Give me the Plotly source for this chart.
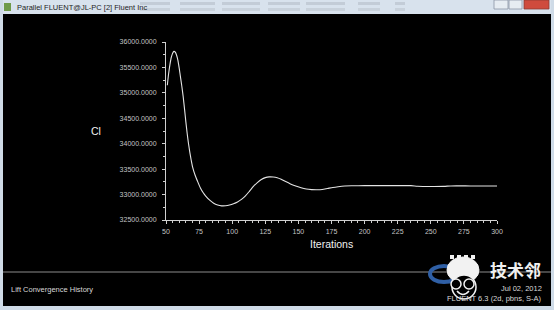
import plotly.graph_objects as go

# ---- data ----
iterations = [51, 52, 53, 54, 55, 56, 57, 58, 59, 60, 61, 62, 63, 64, 65, 66, 67, 68, 69, 70,
              72, 74, 76, 78, 80, 83, 86, 89, 92, 95, 98, 101, 104, 107, 110, 113, 116, 119, 122,
              125, 128, 131, 134, 137, 140, 144, 148, 152, 156, 160, 164, 168, 172, 176, 180, 185,
              190, 200, 215, 235, 240, 250, 260, 265, 280, 300]
lift_cl = [35150, 35380, 35560, 35700, 35780, 35815, 35800, 35740, 35640, 35480, 35300, 35120,
           34920, 34680, 34430, 34200, 34000, 33830, 33680, 33550, 33380, 33250, 33130, 33040,
           32970, 32890, 32830, 32795, 32778, 32780, 32795, 32820, 32855, 32905, 32975, 33065,
           33160, 33235, 33295, 33333, 33348, 33345, 33330, 33300, 33260, 33210, 33170, 33135,
           33110, 33098, 33095, 33100, 33120, 33140, 33155, 33168, 33172, 33175, 33175, 33175,
           33165, 33160, 33162, 33170, 33170, 33170]
x_ticks = [50, 75, 100, 125, 150, 175, 200, 225, 250, 275, 300]
y_ticks = [32500, 33000, 33500, 34000, 34500, 35000, 35500, 36000]

W, H = 554, 310
L, R, T, B = 166, 497, 42, 220


def px(x):
    return (x - L) / (R - L)


def py(y):
    return (B - y) / (B - T)


FONT = "Liberation Sans"

fig = go.Figure()
fig.add_trace(go.Scatter(
    x=iterations, y=lift_cl, mode="lines",
    line=dict(color="#e4e4e4", width=1.1, shape="spline", smoothing=0.6),
    hoverinfo="skip", showlegend=False,
))

shapes = []


def rect(x0, y0, x1, y1, fill, line=None, lw=0, layer="above"):
    shapes.append(dict(type="rect", xref="paper", yref="paper",
                       x0=px(x0), x1=px(x1), y0=py(y1), y1=py(y0),
                       fillcolor=fill, line=dict(color=line or fill, width=lw), layer=layer))


def circ(x0, y0, x1, y1, fill, line, lw):
    shapes.append(dict(type="circle", xref="paper", yref="paper", x0=px(x0), x1=px(x1),
                       y0=py(y1), y1=py(y0), fillcolor=fill, line=dict(color=line, width=lw)))


# window chrome
rect(0, 0, W, 14, "#d8e2ed")
rect(0, 0, 3, H, "#cfdbe7")
rect(551, 0, W, H, "#cfdbe7")
rect(0, 306, W, H, "#cfdbe7")
# blurred console text in title bar
for x0, x1 in [(140, 170), (180, 215), (222, 260), (268, 300), (306, 345), (358, 380), (395, 405)]:
    rect(x0, 2, x1, 5, "#c3ccd7")
    rect(x0, 8, x1, 11, "#c8d1db")
# window buttons
rect(494, 0, 508, 9, "#e6ecf2", "#8a96a4", 0.8)
rect(509, 0, 522, 9, "#e6ecf2", "#8a96a4", 0.8)
rect(524, 0, 549, 9, "#cf4b3d", "#8a3a33", 0.8)
# icon
rect(4, 3, 11, 11, "#6f9a4a")
# separator line
shapes.append(dict(type="line", xref="paper", yref="paper", x0=px(3), x1=px(551), y0=py(272), y1=py(272),
                   line=dict(color="#8c8c8c", width=1)))
# watermark logo
circ(430, 266, 458, 282, "rgba(0,0,0,0)", "#2f5fa5", 4)
circ(447, 257, 479, 283, "#f2f2f2", "#f2f2f2", 1)
for tx in (450, 457, 464, 471):
    rect(tx, 255, tx + 4, 259, "#f2f2f2")
circ(452, 275, 476, 299, "#000000", "#f2f2f2", 1.5)
circ(451, 279, 461, 289, "#000000", "#f2f2f2", 1.5)
circ(464, 279, 474, 289, "#000000", "#f2f2f2", 1.5)
shapes.append(dict(type="path", xref="paper", yref="paper",
                   path="M %f,%f Q %f,%f %f,%f" % (px(457), py(291), px(463), py(298), px(469), py(291)),
                   line=dict(color="#f2f2f2", width=1.5)))

annotations = []


def text(x, y, s, size, color, anchor="left", family=FONT, bold=False):
    annotations.append(dict(xref="paper", yref="paper", x=px(x), y=py(y), text=("<b>%s</b>" % s) if bold else s,
                            showarrow=False, xanchor=anchor, yanchor="middle",
                            font=dict(family=family, size=size, color=color)))


text(15, 7, "Parallel FLUENT@JL-PC [2] Fluent Inc", 7.5, "#1e1e1e")
text(96, 131, "Cl", 10.5, "#f0f0f0", anchor="center")
text(331, 244, "Iterations", 10.5, "#f0f0f0", anchor="center")
text(9, 289, "Lift Convergence History", 7.5, "#d8d8d8")
text(544, 288, "Jul 02, 2012", 7.5, "#d8d8d8", anchor="right")
text(544, 298, "FLUENT 6.3 (2d, pbns, S-A)", 7.5, "#d8d8d8", anchor="right")
text(515, 269, "技术邻", 17, "#f0f0f0", anchor="center", family="Noto Sans CJK SC", bold=True)

fig.update_layout(
    width=W, height=H,
    margin=dict(l=L, r=W - R, t=T, b=H - B, pad=0),
    paper_bgcolor="#000000", plot_bgcolor="#000000",
    shapes=shapes, annotations=annotations,
    xaxis=dict(range=[50, 300], tickvals=x_ticks, ticks="outside", ticklen=3, tickcolor="#d0d0d0",
               showline=True, linecolor="#d0d0d0", linewidth=1, showgrid=False, zeroline=False,
               tickfont=dict(family=FONT, size=7, color="#c4c4c4"), ticklabelstandoff=2,
               minor=dict(dtick=5, tick0=50, ticks="outside", ticklen=2, tickcolor="#d0d0d0"),
               fixedrange=True),
    yaxis=dict(range=[32500, 36000], tickvals=y_ticks, tickformat=".4f", ticks="outside", ticklen=3,
               tickcolor="#d0d0d0", showline=True, linecolor="#d0d0d0", linewidth=1, showgrid=False,
               zeroline=False, tickfont=dict(family=FONT, size=7, color="#c4c4c4"), ticklabelstandoff=4,
               minor=dict(dtick=250, tick0=32500, ticks="outside", ticklen=2, tickcolor="#d0d0d0"),
               fixedrange=True),
)

fig.write_html("out.html", config={"displayModeBar": False})
